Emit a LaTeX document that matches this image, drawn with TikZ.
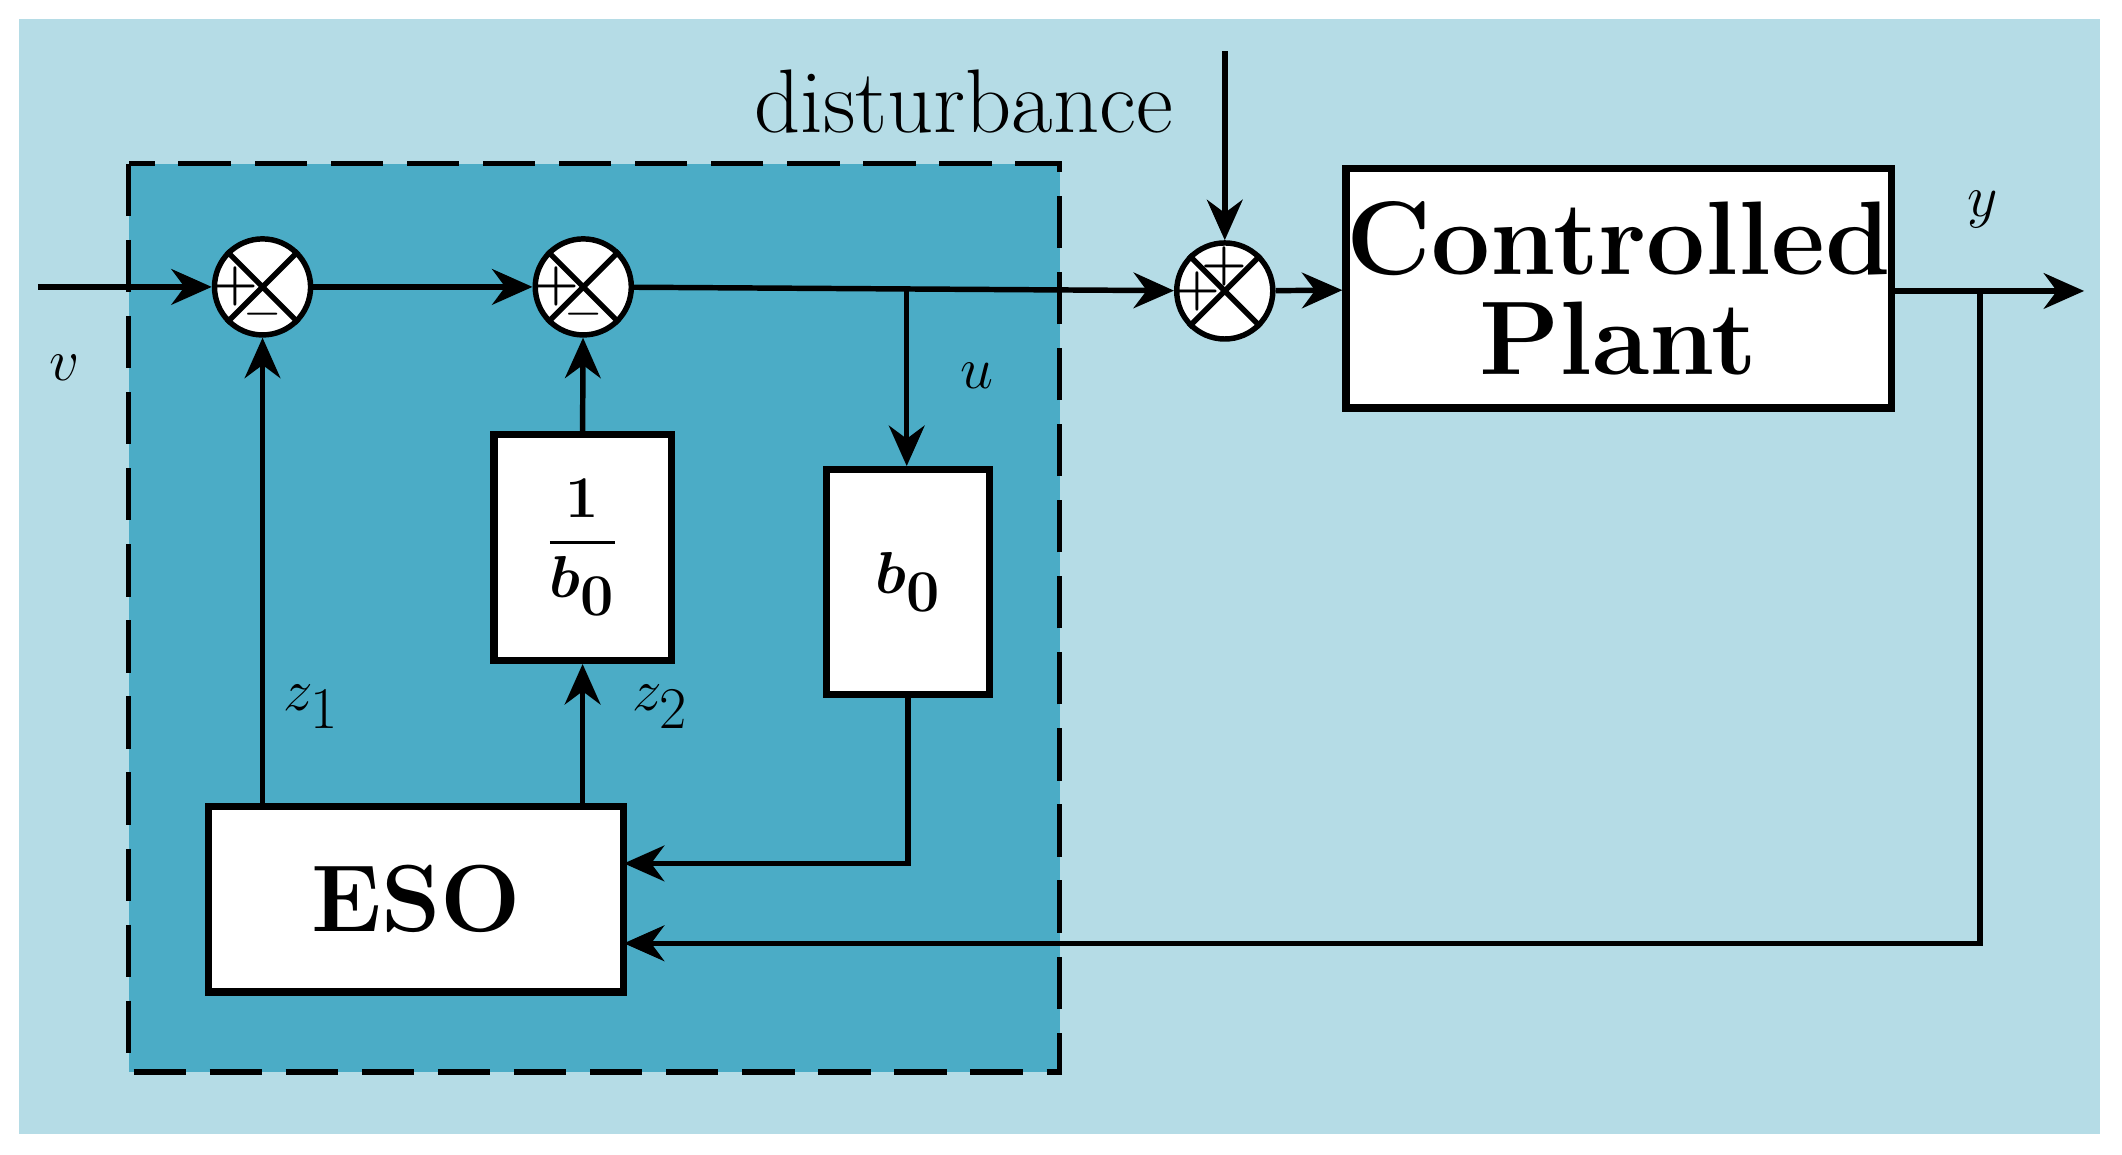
\documentclass[tikz,border=0pt]{standalone}
\usepackage{amsmath,bm}
\usetikzlibrary{arrows.meta}
\definecolor{bgl}{HTML}{B5DCE6}
\definecolor{bgd}{HTML}{4BACC6}
\begin{document}
\begin{tikzpicture}[x=0.02cm,y=-0.02cm,line width=2.3pt,
  blk/.style={draw,fill=white,line width=3pt,inner sep=0pt},
  sum/.style={draw,fill=white,circle,minimum size=1.42cm,inner sep=0pt,line width=2.3pt},
  arr/.style={-{Stealth[length=17pt,width=15pt]}},
  lab/.style={font=\fontsize{40}{44}\selectfont\itshape}]
\useasboundingbox (0,0) rectangle (1568,853);
\fill[bgl] (14,14) rectangle (1552,838);
\fill[bgd] (95,121) rectangle (783,792);
\draw[dash pattern=on 22pt off 10pt] (95,121) rectangle (783,792);
% sums
\foreach \n/\x/\y in {s1/194/212,s2/431/212,s3/905/215}{
  \node[sum] (\n) at (\x,\y) {};
  \draw (\n.north west) -- (\n.south east) (\n.north east) -- (\n.south west);
}
\foreach \n in {s1,s2}{
  \node[font=\fontsize{22}{22}\selectfont\bfseries] at ([xshift=-0.4cm]\n.center) {+};
  \node[font=\fontsize{22}{22}\selectfont\bfseries] at ([yshift=-0.4cm]\n.center) {$-$};
}
\node[font=\fontsize{22}{22}\selectfont\bfseries] at ([xshift=-0.4cm]s3.center) {+};
\node[font=\fontsize{22}{22}\selectfont\bfseries] at ([yshift=0.36cm]s3.center) {+};
% blocks
\node[blk,minimum width=8.06cm,minimum height=3.54cm,font=\fontsize{44}{48}\selectfont\bfseries,align=center] (p) at (1196,213) {Controlled\\[-6pt]Plant};
\node[blk,minimum width=6.14cm,minimum height=2.74cm,font=\fontsize{40}{44}\selectfont\bfseries] (eso) at (307.5,664.5) {ESO};
\node[blk,minimum width=2.4cm,minimum height=3.32cm,font=\fontsize{40}{44}\selectfont] (b) at (671,430) {$\bm{b}_{\mathbf 0}$};
\node[blk,minimum width=2.62cm,minimum height=3.34cm,font=\fontsize{40}{44}\selectfont] (ib) at (430.5,404.5) {$\dfrac{\mathbf 1}{\bm{b}_{\mathbf 0}}$};
% coords
\coordinate (in) at (28,212);
\coordinate (br) at (670,212);
\coordinate (out) at (1540,215);
\coordinate (fb) at (1463,215);
\coordinate (dt) at (905,38);
\coordinate (e1) at (461,697);
\coordinate (e2) at (461,638);
% connectors
\draw[arr] (in) -- (s1);
\draw[arr] (s1) -- (s2);
\draw[arr] (s2) -- (s3);
\draw[arr] (br) -- (b.north-|br);
\draw[arr] (s3) -- (p);
\draw[arr] (p.east|-out) -- (out);
\draw[arr] (fb) |- (e1);
\draw[arr] (b.south) |- (e2);
\draw[arr] (eso.north-|s1) -- (s1);
\draw[arr] (eso.north-|ib) -- (ib.south);
\draw[arr] (ib.north) -- (s2);
\draw[arr] (dt) -- (s3);
% labels
\node[lab] at (48,272) {$v$};
\node[lab] at (722,278) {$u$};
\node[lab] at (1465,155) {$y$};
\node[lab] at (230,522) {$z_{1}$};
\node[lab] at (488,522) {$z_{2}$};
\node[font=\fontsize{38}{42}\selectfont] at (712,75) {disturbance};
\end{tikzpicture}
\end{document}
